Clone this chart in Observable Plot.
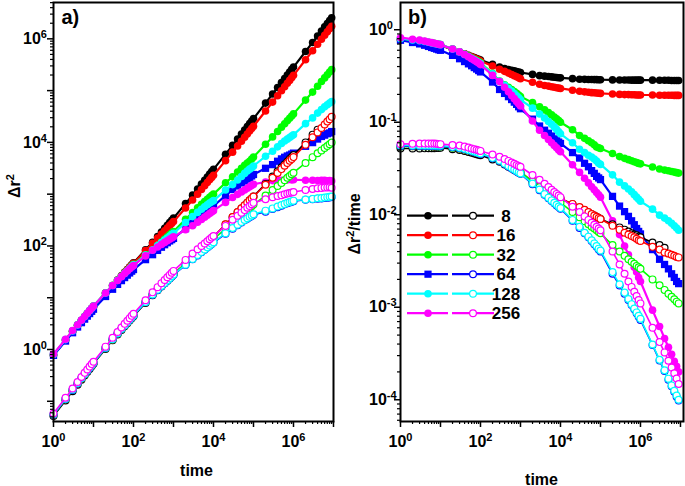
<!DOCTYPE html>
<html><head><meta charset="utf-8">
<script src="https://cdn.jsdelivr.net/npm/d3@7"></script>
<script src="https://cdn.jsdelivr.net/npm/@observablehq/plot@0.6"></script>
<style>
body{margin:0;background:#fff;}
#wrap{position:relative;width:685px;height:486px;overflow:hidden;background:#fff;}
#wrap svg{position:absolute;top:0;}
</style></head><body><div id="wrap"></div>
<script>
// ---- data ----
const times = [1,2,3,4,5,6,7,8,9,
  10,20,30,40,50,60,70,80,90,
  100,200,300,400,500,600,700,800,900,
  1e3,2e3,3e3,4e3,5e3,6e3,7e3,8e3,9e3,
  1e4,2e4,3e4,4e4,5e4,6e4,7e4,8e4,9e4,
  1e5,2e5,3e5,4e5,5e5,6e5,7e5,8e5,9e5,
  1e6,2e6,3e6,4e6,5e6,6e6,7e6,8e6,9e6];

const sizes = ["8","16","32","64","128","256"];
const colors = ["#000000","#ff0000","#00ff00","#0000ff","#00ffff","#ff00ff"];

// Δr²/time, filled symbols
const filled8 = [.78,.762,.751,.736,.722,.711,.702,.694,.686,
  .68,.614,.575,.550,.530,.514,.501,.489,.479,
  .47,.422,.394,.381,.372,.365,.359,.354,.349,
  .345,.329,.319,.315,.312,.309,.307,.305,.303,
  .302,.296,.292,.291,.290,.290,.289,.289,.288,
  .288,.287,.286,.286,.286,.285,.285,.285,.285,
  .285,.285,.284,.284,.284,.283,.283,.283,.283];
const filled16 = [.78,.762,.751,.736,.722,.711,.702,.694,.686,
  .68,.614,.575,.548,.526,.509,.494,.481,.470,
  .46,.406,.374,.355,.340,.328,.318,.310,.302,
  .295,.271,.257,.250,.246,.242,.239,.236,.234,
  .232,.222,.216,.213,.211,.209,.208,.207,.206,
  .205,.202,.200,.199,.199,.198,.198,.197,.197,
  .197,.197,.196,.196,.196,.196,.195,.195,.195];
const filled32 = [.79,.772,.761,.746,.732,.721,.712,.704,.696,
  .69,.618,.576,.543,.518,.498,.480,.465,.452,
  .44,.338,.278,.254,.238,.226,.215,.206,.197,
  .19,.163,.147,.136,.127,.120,.114,.109,.104,
  .100,.083,.072,.067,.063,.060,.057,.054,.053,
  .052,.046,.0425,.0407,.0394,.0383,.0374,.0366,.0359,
  .0355,.0328,.0312,.0304,.0299,.0293,.0289,.0285,.0282];
const filled64 = [.77,.728,.703,.68,.66,.643,.63,.618,.608,
  .60,.528,.486,.453,.428,.408,.39,.376,.362,
  .35,.272,.226,.205,.189,.176,.165,.156,.147,
  .14,.108,.091,.082,.076,.071,.066,.063,.061,
  .059,.047,.041,.036,.033,.030,.028,.026,.025,
  .024,.0158,.0124,.0108,.0096,.0086,.0078,.0071,.0066,
  .0062,.0042,.0033,.0029,.0026,.0023,.0021,.0019,.0018];
const filled128 = [.80,.776,.762,.746,.732,.720,.711,.703,.695,
  .69,.618,.576,.541,.514,.492,.473,.457,.443,
  .43,.334,.277,.251,.232,.217,.204,.193,.184,
  .175,.142,.123,.111,.102,.095,.089,.084,.079,
  .075,.060,.051,.047,.044,.042,.040,.038,.036,
  .035,.027,.0225,.0205,.0190,.0177,.0165,.0155,.0147,
  .014,.0115,.0099,.0092,.0086,.0081,.0076,.0072,.0068];
const filled256 = [.82,.79,.772,.754,.738,.725,.715,.705,.697,
  .69,.618,.576,.539,.511,.487,.468,.451,.436,
  .42,.321,.275,.239,.214,.195,.180,.168,.158,
  .15,.103,.082,.072,.065,.060,.056,.053,.050,
  .048,.0347,.0287,.0248,.0221,.0201,.0186,.0174,.0164,
  .0155,.0086,.0061,.0046,.0037,.0031,.0027,.0024,.0021,
  .0019,.00093,.00062,.00046,.00037,.00031,.00026,.00023,.00020];

// Δr²/time, open symbols
const open8 = [.052,.052,.052,.0522,.0523,.0524,.0525,.0527,.0528,
  .053,.0512,.0501,.0488,.0476,.0467,.0459,.0452,.0446,
  .044,.0396,.0373,.0349,.0331,.0317,.0305,.0295,.0287,
  .028,.0225,.0198,.0185,.0176,.0169,.0163,.0158,.0153,
  .015,.013,.0119,.0112,.0106,.0101,.0098,.0095,.0092,
  .009,.0079,.0073,.0069,.0066,.0063,.0061,.006,.0058,
  .0057,.0050,.0047,.0044];
const open16 = [.055,.055,.0552,.0552,.0552,.0552,.055,.055,.055,
  .055,.0532,.0521,.0508,.0496,.0487,.0479,.0472,.0466,
  .046,.0412,.0385,.036,.0341,.0327,.0315,.0305,.0297,
  .029,.023,.0202,.0187,.0177,.017,.0164,.0158,.0154,
  .015,.0131,.0121,.0113,.0107,.0102,.0098,.0095,.0092,
  .009,.0076,.0069,.0064,.0061,.0059,.0057,.0055,.0053,
  .0052,.0045,.0042,.0039,.0038,.0037,.0036,.0035,.00346];
const open32 = [.0548,.0549,.055,.055,.0551,.055,.0549,.0549,.0548,
  .0548,.053,.0519,.0506,.0495,.0486,.0478,.0471,.0465,
  .0459,.0411,.0384,.0359,.034,.0326,.0314,.0304,.0296,
  .029,.0228,.0199,.0181,.0168,.0159,.0151,.0145,.014,
  .0135,.0107,.0094,.0085,.0079,.0074,.0071,.0068,.0065,
  .0063,.0047,.004,.0036,.0033,.0031,.00295,.0028,.0027,
  .0026,.002,.00173,.00154,.0014,.0013,.00122,.00115,.0011];
const open64 = [.055,.0552,.0553,.0554,.0554,.0553,.0552,.0551,.055,
  .055,.0535,.0525,.051,.0498,.0487,.0478,.047,.0462,
  .0455,.0408,.0381,.0353,.0332,.0317,.0304,.0293,.0284,
  .0277,.0214,.0184,.0164,.0151,.0141,.0133,.0126,.0121,
  .0116,.0086,.0072,.0063,.0057,.0052,.0048,.0045,.0042,
  .0040,.0023,.00172,.0014,.0012,.00106,.00095,.00086,.00079,
  .00073,.00039,.000265,.000204,.000165,.00014,.000122,.000108,.000098];
const open128 = [.056,.056,.0562,.0562,.0562,.056,.056,.056,.056,
  .056,.0542,.0531,.0516,.0502,.0491,.0482,.0474,.0466,
  .046,.0412,.0385,.0357,.0336,.0321,.0308,.0297,.0288,
  .028,.0217,.0187,.0167,.0153,.0143,.0135,.0128,.0123,
  .0118,.0088,.0074,.0064,.0058,.0053,.0049,.0046,.0043,
  .0041,.0024,.00177,.00144,.00123,.00108,.00097,.00088,.00081,
  .00075,.000395,.00027,.000208,.000169,.000143,.000125,.000111,.0001];
const open256 = [.058,.0585,.059,.059,.059,.059,.0588,.0585,.058,
  .058,.0568,.0561,.0546,.0532,.0521,.0512,.0504,.0496,
  .049,.0448,.0423,.040,.0382,.0367,.0355,.0345,.0337,
  .033,.0269,.0239,.0216,.0199,.0186,.0176,.0168,.0161,
  .0155,.0122,.0107,.0096,.0088,.0082,.0078,.0074,.0071,
  .0068,.004,.0029,.0023,.0019,.00166,.00147,.00132,.0012,
  .0011,.0006,.00042,.000325,.000264,.000223,.000193,.00017,.000148];

const filledSets = [filled8, filled16, filled32, filled64, filled128, filled256];
const openSets = [open8, open16, open32, open64, open128, open256];

// tick values
const decadesA = [0.1,1,10,100,1e3,1e4,1e5,1e6];
const labelsAY = [1,100,1e4,1e6];
const decadesX = [1,10,100,1e3,1e4,1e5,1e6,1e7];
const labelsX = [1,100,1e4,1e6];
const decadesB = [1e-4,1e-3,1e-2,1e-1,1];
const labelsBY = [1e-4,1e-3,1e-2,1e-1,1];

function minorTicks(lo, hi){
  const out=[];
  for(let e=Math.floor(Math.log10(lo)); e<=Math.ceil(Math.log10(hi)); e++)
    for(let d=2; d<=9; d++){ const v=d*Math.pow(10,e); if(v>=lo && v<=hi) out.push(v); }
  return out;
}
const fmt = d => "10^" + Math.round(Math.log10(d));

function rows(vals){ return vals.map((v,i)=>({t:times[i], r:v, m:v*times[i]})); }

function seriesMarks(key){
  const marks=[];
  filledSets.forEach((vals,k)=>{
    const data=rows(vals);
    marks.push(Plot.line(data,{x:"t",y:key,stroke:colors[k],strokeWidth:2.2}));
    marks.push(Plot.dot(data,{x:"t",y:key,fill:colors[k],stroke:"none",r:k===3?4.1:3.8,symbol:k===3?"square":"circle"}));
  });
  openSets.forEach((vals,k)=>{
    const data=rows(vals);
    marks.push(Plot.line(data,{x:"t",y:key,stroke:colors[k],strokeWidth:1.6}));
    marks.push(Plot.dot(data,{x:"t",y:key,fill:"white",stroke:colors[k],strokeWidth:1.2,r:3.4}));
  });
  return marks;
}

const style = {fontFamily:"'Liberation Sans', Arial, sans-serif", fontSize:"16px", fontWeight:"bold", background:"white", overflow:"visible", color:"black"};

function axisMarks(xDom, yDom, yMajor, yLabels, yLabelDx){
  return [
    Plot.frame({stroke:"black", strokeWidth:2}),
    Plot.axisX(decadesX.filter(v=>v>=xDom[0]&&v<=xDom[1]), {tickSize:6, strokeWidth:1.5, tickFormat:()=>"", label:null}),
    Plot.axisX(minorTicks(xDom[0],xDom[1]), {tickSize:3, strokeWidth:1.2, tickFormat:()=>"", label:null}),
    Plot.axisY(yMajor.filter(v=>v>=yDom[0]&&v<=yDom[1]), {tickSize:6, strokeWidth:1.5, tickFormat:()=>"", label:null}),
    Plot.axisY(minorTicks(yDom[0],yDom[1]), {tickSize:3, strokeWidth:1.2, tickFormat:()=>"", label:null}),
    Plot.text(labelsX.filter(v=>v>=xDom[0]&&v<=xDom[1]), {x:d=>d, frameAnchor:"bottom", lineAnchor:"bottom", dy:25, text:fmt, textAnchor:"middle"}),
    Plot.text(yLabels, {y:d=>d, frameAnchor:"left", dx:yLabelDx, textAnchor:"start", text:fmt})
  ];
}

const xDomA=[1,1e7], yDomA=[0.0407,5.03e6];
const xDomB=[1,1.19e7], yDomB=[5.82e-5,1.97];

const plotA = Plot.plot({
  width:340, height:486, marginLeft:53, marginRight:7, marginTop:2, marginBottom:65,
  style,
  x:{type:"log", domain:xDomA, label:null},
  y:{type:"log", domain:yDomA, label:null},
  marks:[...seriesMarks("m"), ...axisMarks(xDomA,yDomA,decadesA,labelsAY,-30.5)]
});
const plotB = Plot.plot({
  width:345, height:486, marginLeft:60, marginRight:2, marginTop:2, marginBottom:65,
  style,
  x:{type:"log", domain:xDomB, label:null},
  y:{type:"log", domain:yDomB, label:null},
  marks:[...seriesMarks("r"), ...axisMarks(xDomB,yDomB,decadesB,labelsBY,-31.5)]
});

const wrap=document.getElementById("wrap");
plotA.style.left="0px"; plotB.style.left="340px";
wrap.appendChild(plotA); wrap.appendChild(plotB);

function supify(svg){
  d3.select(svg).selectAll("text").each(function(){
    const m=/^10\^(.+)$/.exec(this.textContent);
    if(m){ this.textContent="10"; d3.select(this).append("tspan").attr("dy",-6).attr("font-size",11).text(m[1]); }
  });
}
supify(plotA); supify(plotB);

// titles & panel labels
function addText(svg, x, y, parts, opts={}){
  const t=d3.select(svg).append("text").attr("x",x).attr("y",y)
    .attr("font-size",opts.size||16).attr("font-weight","bold").attr("fill","black")
    .attr("text-anchor",opts.anchor||"start");
  if(opts.rotate) t.attr("x",0).attr("y",0).attr("transform",`translate(${x},${y}) rotate(-90)`);
  parts.forEach(p=>{
    const s=t.append("tspan").text(p.t);
    if(p.sup){ s.attr("dy",-6).attr("font-size",11); }
    if(p.down){ s.attr("dy",6); }
  });
  return t;
}
addText(plotA, 61.5, 23.5, [{t:"a)"}], {size:20});
addText(plotB, 68, 23.5, [{t:"b)"}], {size:20});
addText(plotA, 19.5, 186, [{t:"Δr"},{t:"2",sup:true}], {anchor:"middle", rotate:true});
addText(plotB, 20, 224, [{t:"Δr"},{t:"2",sup:true},{t:"/time",down:true}], {anchor:"middle", rotate:true});
addText(plotA, 196.5, 475.5, [{t:"time"}], {anchor:"middle"});
addText(plotB, 201.5, 484.5, [{t:"time"}], {anchor:"middle"});

// legend in panel b
const lg=d3.select(plotB).append("g");
const rowY=[215.7,235.2,254.7,274.2,293.7,313.2];
sizes.forEach((s,k)=>{
  const y=rowY[k];
  lg.append("line").attr("x1",67).attr("x2",108).attr("y1",y).attr("y2",y).attr("stroke",colors[k]).attr("stroke-width",2.2);
  lg.append("line").attr("x1",112).attr("x2",154).attr("y1",y).attr("y2",y).attr("stroke",colors[k]).attr("stroke-width",2.2);
  if(k===3) lg.append("rect").attr("x",88-3.6).attr("y",y-3.6).attr("width",7.2).attr("height",7.2).attr("fill",colors[k]);
  else lg.append("circle").attr("cx",88).attr("cy",y).attr("r",3.8).attr("fill",colors[k]);
  lg.append("circle").attr("cx",133).attr("cy",y).attr("r",3.4).attr("fill","white").attr("stroke",colors[k]).attr("stroke-width",1.2);
  lg.append("text").attr("x",166).attr("y",y+5.8).attr("font-size",17).attr("font-weight","bold").text(s);
});
</script></body></html>
